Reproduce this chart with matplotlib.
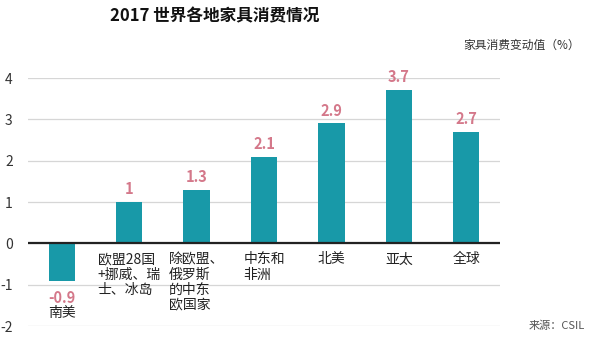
import matplotlib
matplotlib.use("Agg")
import matplotlib.pyplot as plt

plt.rcParams['font.family'] = ['Noto Sans CJK SC', 'DejaVu Sans']

categories = ['南美', '欧盟28国\n+挪威、瑞\n士、冰岛', '除欧盟、\n俄罗斯\n的中东\n欧国家',
              '中东和\n非洲', '北美', '亚太', '全球']
values = [-0.9, 1, 1.3, 2.1, 2.9, 3.7, 2.7]
value_labels = ['-0.9', '1', '1.3', '2.1', '2.9', '3.7', '2.7']
yticks = [-2, -1, 0, 1, 2, 3, 4]

bar_color = '#1899a8'
val_color = '#d4788a'

fig = plt.figure(figsize=(5.9, 3.51), dpi=100)
ax = fig.add_axes([28/590, 1 - 326/351, (500-28)/590, (326-78)/351])
x = list(range(len(values)))
ax.bar(x, values, width=0.39, color=bar_color, zorder=3)
ax.set_xlim(-0.5, 6.5)
ax.set_ylim(-2, 4)
for t in yticks:
    ax.axhline(t, color='#d6d6d6', lw=0.9, zorder=1)
ax.axhline(0, color='#222222', lw=1.6, zorder=4)
for s in ax.spines.values():
    s.set_visible(False)
ax.set_xticks([])
ax.set_yticks(yticks)
ax.set_yticklabels([str(t) for t in yticks], fontsize=10, color='#333333')
ax.tick_params(axis='y', length=0, pad=11)

for i, (v, lab, cat) in enumerate(zip(values, value_labels, categories)):
    if v >= 0:
        ax.text(i, v + 0.12, lab, ha='center', va='bottom', fontsize=10.5,
                fontweight='bold', color=val_color)
        ax.text(i, -0.22, cat, ha='center', va='top', fontsize=10,
                color='#222222', multialignment='left', linespacing=1.1)
    else:
        ax.text(i, v - 0.22, lab, ha='center', va='top', fontsize=10.5,
                fontweight='bold', color=val_color)
        ax.text(i, v - 0.62, cat, ha='center', va='top', fontsize=10,
                color='#222222')

fig.text(215/590, 1 - 16/351, '2017 世界各地家具消费情况', ha='center', va='center',
         fontsize=12, fontweight='bold', color='#111111')
fig.text(580/590, 1 - 45/351, '家具消费变动值（%）', ha='right', va='center',
         fontsize=8.5, color='#333333')
fig.text(585/590, 1 - 326/351, '来源：CSIL', ha='right', va='center',
         fontsize=8, color='#555555')

fig.savefig('out.png', dpi=100, facecolor='white')
